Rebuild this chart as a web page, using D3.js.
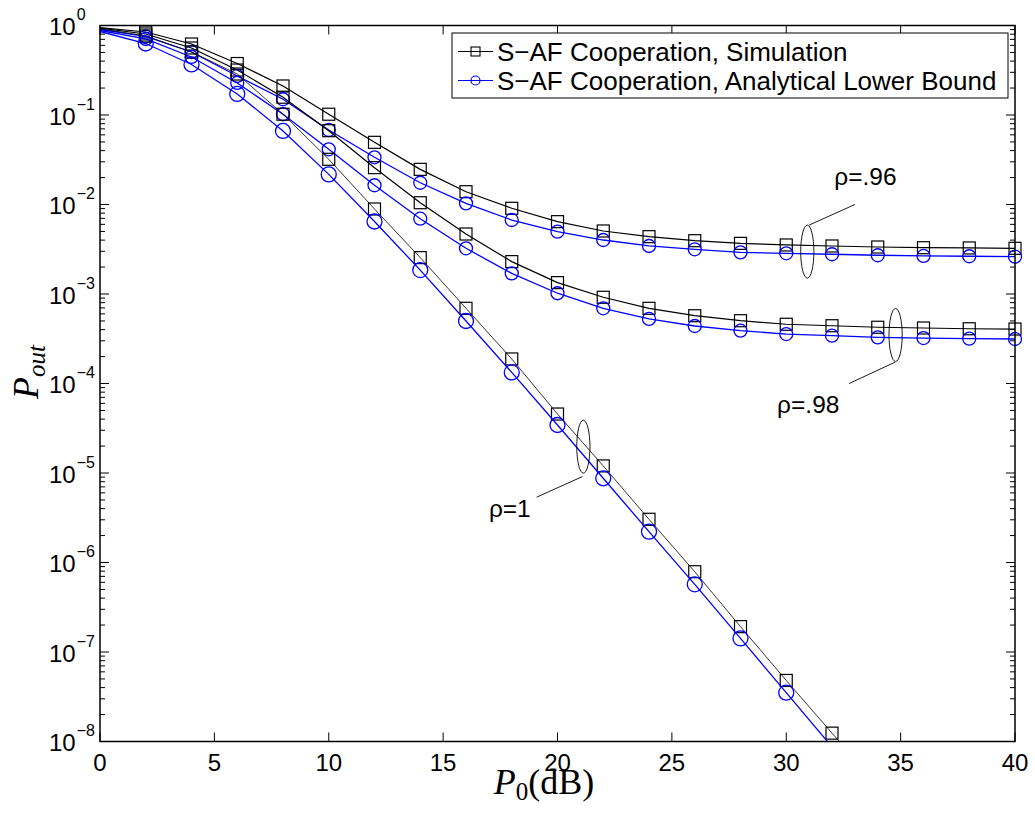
<!DOCTYPE html>
<html><head><meta charset="utf-8">
<script src="https://cdn.jsdelivr.net/npm/d3@7"></script>
<style>body{margin:0;background:#fff}</style>
</head><body>
<svg id="c" width="1035" height="815" xmlns="http://www.w3.org/2000/svg"></svg>
<script>
// ---- data ----
const snrDb = [0,2,4,6,8,10,12,14,16,18,20,22,24,26,28,30,32,34,36,38,40];
const xTicks = [0,5,10,15,20,25,30,35,40];
const yTickExps = [0,-1,-2,-3,-4,-5,-6,-7,-8];

const simRho096 = [0.945,0.846,0.621,0.376,0.211,0.102,0.0495,0.0247,0.0139,0.00907,0.00643,0.00506,0.00437,0.00394,0.00368,0.00353,0.00344,0.00335,0.00329,0.00327,0.00324];
const anaRho096 = [0.902,0.754,0.506,0.273,0.150,0.068,0.0337,0.0175,0.0103,0.00671,0.00497,0.00401,0.00344,0.00316,0.00292,0.00285,0.00278,0.00271,0.00266,0.00264,0.00261];
const simRho098 = [0.933,0.804,0.561,0.318,0.158,0.0668,0.0258,0.01047,0.00468,0.00230,0.00134,0.000919,0.000692,0.000572,0.000503,0.000459,0.000442,0.000425,0.000417,0.000409,0.000406];
const anaRho098 = [0.879,0.707,0.445,0.228,0.102,0.0414,0.0164,0.00694,0.00324,0.00170,0.00102,0.000692,0.000526,0.000439,0.000389,0.000357,0.000342,0.000328,0.000322,0.000317,0.000314];
const simRho1 = [0.921,0.763,0.506,0.287,0.102,0.0320,0.00891,0.00255,0.000692,0.000188,4.56e-5,1.20e-5,3.04e-6,7.89e-7,1.92e-7,4.81e-8,1.24e-8,3.2e-9];
const anaRho1 = [0.857,0.629,0.367,0.172,0.0663,0.0217,0.00646,0.00185,0.000499,0.000133,3.44e-5,8.73e-6,2.21e-6,5.70e-7,1.42e-7,3.51e-8,8.7e-9];

const legendLabels = ["S\u2212AF Cooperation, Simulation","S\u2212AF Cooperation, Analytical Lower Bound"];
const annotations = [
  {label:"\u03c1=.96", cx:30.92, cy:-2.527, tx:32.1, ty:-1.78, lx1:31.0, ly1:-2.23, lx2:33.0, ly2:-2.0},
  {label:"\u03c1=.98", cx:34.78, cy:-3.458, tx:29.6, ty:-4.33, lx1:34.77, ly1:-3.76, lx2:32.75, ly2:-4.0},
  {label:"\u03c1=1",  cx:21.13, cy:-4.706, tx:17.0, ty:-5.49, lx1:21.09, ly1:-5.04, lx2:19.09, ly2:-5.27}
];

// ---- layout ----
const L=100, R=1015, T=25.5, B=741.5;
const x = d3.scaleLinear().domain([0,40]).range([L,R]);
const y = d3.scaleLog().domain([1e-8,1]).range([B,T]);
const svg = d3.select("#c");
const FONT = "'Liberation Sans', Arial, Helvetica, sans-serif";

svg.append("defs").append("clipPath").attr("id","clip")
  .append("rect").attr("x",L).attr("y",T).attr("width",R-L).attr("height",B-T);

// ticks (inward)
const tickG = svg.append("g").attr("stroke","#000").attr("stroke-width",1);
xTicks.forEach(t=>{
  tickG.append("line").attr("x1",x(t)).attr("x2",x(t)).attr("y1",B).attr("y2",B-9);
  tickG.append("line").attr("x1",x(t)).attr("x2",x(t)).attr("y1",T).attr("y2",T+9);
});
yTickExps.forEach(e=>{
  const v = Math.pow(10,e);
  tickG.append("line").attr("x1",L).attr("x2",L+9).attr("y1",y(v)).attr("y2",y(v));
  tickG.append("line").attr("x1",R).attr("x2",R-9).attr("y1",y(v)).attr("y2",y(v));
  if (e>-8) for (let m=2;m<=9;m++){
    const mv = v*m/10;
    tickG.append("line").attr("x1",L).attr("x2",L+5).attr("y1",y(mv)).attr("y2",y(mv));
    tickG.append("line").attr("x1",R).attr("x2",R-5).attr("y1",y(mv)).attr("y2",y(mv));
  }
});

// tick labels
xTicks.forEach(t=>{
  svg.append("text").attr("x",x(t)).attr("y",B+29).attr("text-anchor","middle")
    .attr("font-family",FONT).attr("font-size",24).text(t);
});
yTickExps.forEach(e=>{
  const yy = y(Math.pow(10,e));
  const tx = svg.append("text").attr("x",49).attr("y",yy+9.5)
    .attr("font-family",FONT).attr("font-size",24);
  tx.append("tspan").text("10");
  tx.append("tspan").attr("dy",-15).attr("font-size",16).attr("dx",1)
    .text(e===0?"0":"\u2212"+(-e));
});

// series
const series = [
  {vals:simRho096, color:"#000", w:1.2, marker:"sq", size:12},
  {vals:anaRho096, color:"#0000ff", w:1.3, marker:"ci", size:6.5},
  {vals:simRho098, color:"#000", w:1.2, marker:"sq", size:12},
  {vals:anaRho098, color:"#0000ff", w:1.3, marker:"ci", size:6.5},
  {vals:simRho1, color:"#000", w:0.8, marker:"sq", size:12},
  {vals:anaRho1, color:"#0000ff", w:1.3, marker:"ci", size:7.5}
];
const plotG = svg.append("g");
const line = d3.line().x(d=>x(d[0])).y(d=>y(d[1]));
series.forEach(s=>{
  const pts = s.vals.map((v,i)=>[snrDb[i],v]);
  plotG.append("path").attr("d",line(pts)).attr("fill","none")
    .attr("stroke",s.color).attr("stroke-width",s.w).attr("clip-path","url(#clip)");
  pts.filter(p=>p[0]>0 && p[1]>=1e-8).forEach(p=>{
    if (s.marker==="sq"){
      plotG.append("rect").attr("x",x(p[0])-s.size/2).attr("y",y(p[1])-s.size/2)
        .attr("width",s.size).attr("height",s.size).attr("fill","none")
        .attr("stroke",s.color).attr("stroke-width",1.2);
    } else {
      plotG.append("circle").attr("cx",x(p[0])).attr("cy",y(p[1])).attr("r",s.size)
        .attr("fill","none").attr("stroke",s.color).attr("stroke-width",1.3);
    }
  });
});

// axes box
svg.append("rect").attr("x",L).attr("y",T).attr("width",R-L).attr("height",B-T)
  .attr("fill","none").attr("stroke","#000").attr("stroke-width",1.5);

// annotations
annotations.forEach(a=>{
  const g = svg.append("g");
  g.append("ellipse").attr("cx",x(a.cx)).attr("cy",y(Math.pow(10,a.cy)))
    .attr("rx",6.6).attr("ry",26.5).attr("fill","none").attr("stroke","#000").attr("stroke-width",0.9);
  g.append("line").attr("x1",x(a.lx1)).attr("y1",y(Math.pow(10,a.ly1)))
    .attr("x2",x(a.lx2)).attr("y2",y(Math.pow(10,a.ly2))).attr("stroke","#000").attr("stroke-width",0.9);
  g.append("text").attr("x",x(a.tx)).attr("y",y(Math.pow(10,a.ty)))
    .attr("font-family",FONT).attr("font-size",24.5).text(a.label);
});

// legend
const lg = svg.append("g");
lg.append("rect").attr("x",452).attr("y",33).attr("width",556).attr("height",65)
  .attr("fill","#fff").attr("stroke","#000").attr("stroke-width",1);
legendLabels.forEach((lab,i)=>{
  const ly = 51.5 + i*29;
  const c = i===0?"#000":"#0000ff";
  lg.append("line").attr("x1",458).attr("x2",493).attr("y1",ly).attr("y2",ly)
    .attr("stroke",c).attr("stroke-width",1.2);
  if (i===0) lg.append("rect").attr("x",475.5-4.5).attr("y",ly-4.5).attr("width",9).attr("height",9)
    .attr("fill","none").attr("stroke",c).attr("stroke-width",1.1);
  else lg.append("circle").attr("cx",475.5).attr("cy",ly).attr("r",4.5)
    .attr("fill","none").attr("stroke",c).attr("stroke-width",1.2);
  lg.append("text").attr("x",497).attr("y",ly+9.5).attr("font-family",FONT)
    .attr("font-size",26).text(lab);
});

// axis titles
const SERIF = "'Liberation Serif', 'DejaVu Serif', serif";
const xl = svg.append("text").attr("x",544).attr("y",794).attr("text-anchor","middle")
  .attr("font-family",SERIF).attr("font-size",36);
xl.append("tspan").attr("font-style","italic").text("P");
xl.append("tspan").attr("dy",6).attr("font-size",25).text("0");
xl.append("tspan").attr("dy",-6).text("(dB)");

const yl = svg.append("text").attr("transform","translate(38,372) rotate(-90)")
  .attr("text-anchor","middle").attr("font-family",SERIF).attr("font-size",36);
yl.append("tspan").attr("font-style","italic").text("P");
yl.append("tspan").attr("dy",7).attr("font-size",25).attr("font-style","italic").text("out");
</script>
</body></html>
